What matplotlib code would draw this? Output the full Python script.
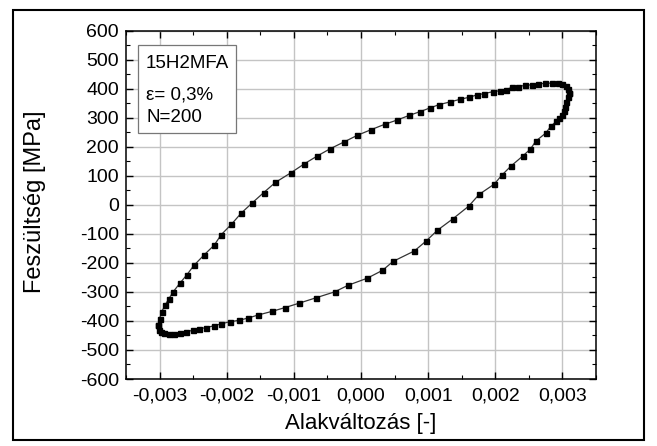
import matplotlib.pyplot as plt
from matplotlib.patches import Rectangle
from matplotlib.ticker import MultipleLocator

plt.rcParams['font.family'] = ['Liberation Sans', 'DejaVu Sans']
plt.rcParams['axes.unicode_minus'] = False

# strain in units of 1e-3, stress in MPa (loop)
upper_strain = [-3.02, -3.00, -2.97, -2.92, -2.86, -2.795, -2.697, -2.593, -2.489, -2.334,
                -2.186, -2.082, -1.929, -1.785, -1.627, -1.449, -1.275, -1.045, -0.844, -0.651,
                -0.458, -0.247, -0.056, 0.144, 0.352, 0.541, 0.721, 0.884, 1.022, 1.166,
                1.325, 1.474, 1.608, 1.722, 1.835, 1.960, 2.068, 2.158, 2.242, 2.340,
                2.440, 2.539, 2.637, 2.737, 2.837, 2.935, 3.000, 3.05, 3.08, 3.09]
upper_stress = [-415, -392, -369, -346, -323, -299, -270, -241, -209, -172,
                -139, -103, -67, -29, 5, 42, 77, 110, 141, 168,
                193, 217, 239, 258, 277, 292, 308, 321, 333, 345,
                354, 363, 370, 378, 383, 389, 393, 396, 404, 407,
                411, 413, 416, 418, 419, 420, 417, 410, 399, 385]

lower_strain = [3.09, 3.08, 3.06, 3.04, 3.02, 2.99, 2.95, 2.911, 2.826, 2.752,
                2.603, 2.524, 2.405, 2.232, 2.098, 1.984, 1.761, 1.603, 1.37, 1.137,
                0.969, 0.795, 0.478, 0.319, 0.092, -0.19, -0.394, -0.666, -0.923, -1.131,
                -1.324, -1.538, -1.68, -1.82, -1.958, -2.082, -2.19, -2.315, -2.414, -2.5,
                -2.6, -2.7, -2.78, -2.86, -2.93, -2.98, -3.01, -3.02]
lower_stress = [385, 370, 355, 338, 324, 310, 299, 288, 270, 247,
                219, 192, 167, 133, 102, 71, 36, -5, -48, -88,
                -125, -159, -195, -226, -253, -277, -300, -320, -339, -354,
                -367, -380, -390, -398, -403, -410, -417, -423, -428, -432,
                -437, -441, -444, -445, -443, -438, -430, -415]

x_ticks = [-0.003, -0.002, -0.001, 0.0, 0.001, 0.002, 0.003]
x_labels = ['-0,003', '-0,002', '-0,001', '0,000', '0,001', '0,002', '0,003']
y_ticks = [-600, -500, -400, -300, -200, -100, 0, 100, 200, 300, 400, 500, 600]
info_lines = ['15H2MFA', 'ε= 0,3%', 'N=200']

strain = [s * 1e-3 for s in upper_strain + lower_strain]
stress = upper_stress + lower_stress

fig = plt.figure(figsize=(6.57, 4.46), dpi=100)
ax = fig.add_axes([0.1918, 0.1502, 0.7154, 0.7814])

ax.plot(strain, stress, color='#333333', lw=0.9, marker='s', ms=3.6,
        mfc='black', mec='black', zorder=3)

ax.set_xlim(-0.0035, 0.0035)
ax.set_ylim(-600, 600)
ax.set_xticks(x_ticks)
ax.set_xticklabels(x_labels)
ax.set_yticks(y_ticks)
ax.xaxis.set_minor_locator(MultipleLocator(0.0005))
ax.yaxis.set_minor_locator(MultipleLocator(50))
ax.tick_params(which='both', direction='in', top=True, right=True, labelsize=14)
ax.tick_params(which='major', length=5, width=1)
ax.tick_params(which='minor', length=3, width=0.8)
ax.tick_params(axis='x', pad=6)
ax.tick_params(axis='y', pad=5)
ax.grid(True, which='major', color='#c4c4c4', lw=1)
ax.set_axisbelow(True)
for sp in ax.spines.values():
    sp.set_linewidth(1.1)

ax.set_xlabel('Alakváltozás [-]', fontsize=16, labelpad=6)
ax.set_ylabel('Feszültség [MPa]', fontsize=17)
ax.yaxis.set_label_coords((46 - 126) / 470, 0.51)

# info box
box = Rectangle((138 / 657, 1 - 133 / 446), 98 / 657, 88 / 446, transform=fig.transFigure,
                fill=True, facecolor='white', edgecolor='#777777', lw=0.9, zorder=5)
fig.patches.append(box)
for txt, ypx in zip(info_lines, [63, 95, 117]):
    fig.text(146 / 657, 1 - ypx / 446, txt, fontsize=13.5, va='center', ha='left', zorder=6)

# outer frame
frame = Rectangle((13 / 657, 1 - 440 / 446), 631 / 657, 430 / 446, transform=fig.transFigure,
                  fill=False, edgecolor='black', lw=1.5)
fig.patches.append(frame)

fig.savefig('out.png', dpi=100)
